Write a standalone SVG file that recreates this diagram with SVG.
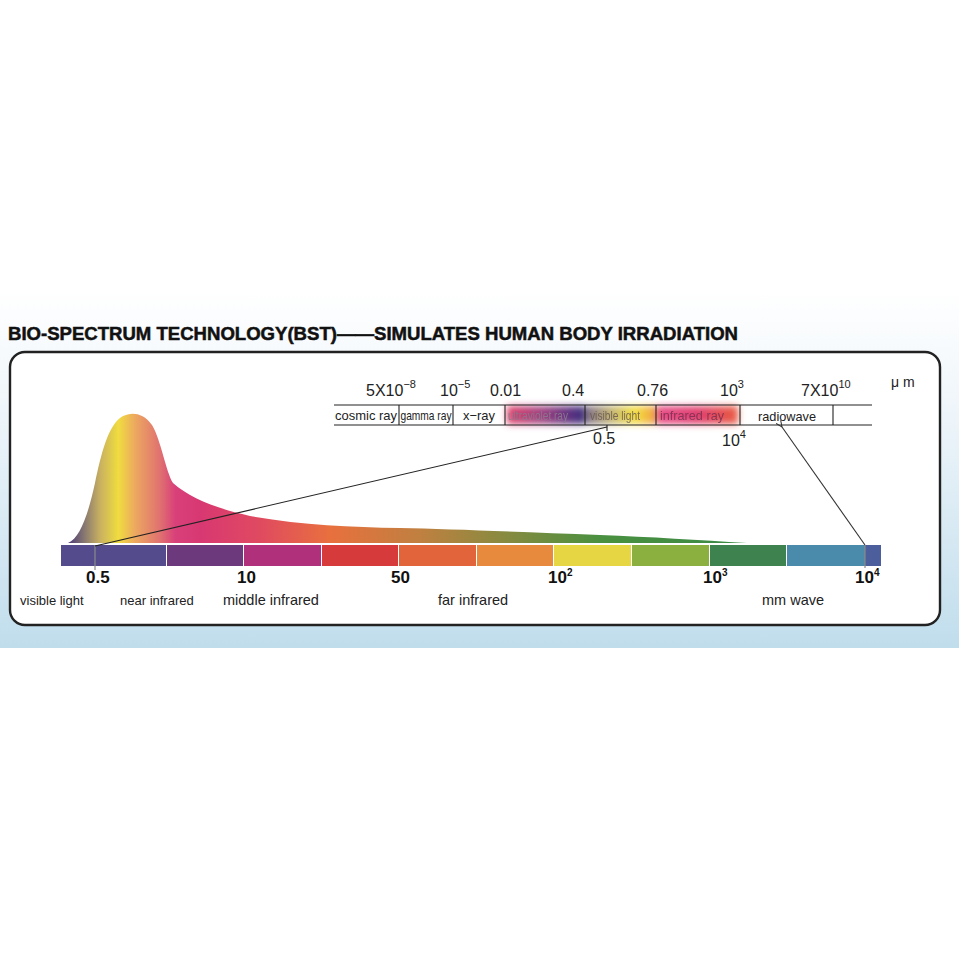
<svg xmlns="http://www.w3.org/2000/svg" width="959" height="959" viewBox="0 0 959 959">
<defs>
<linearGradient id="bg" x1="0" y1="290" x2="0" y2="648" gradientUnits="userSpaceOnUse">
<stop offset="0" stop-color="#ffffff"/>
<stop offset="0.35" stop-color="#eef5fa"/>
<stop offset="1" stop-color="#c0ddec"/>
</linearGradient>
<linearGradient id="curve" x1="68" y1="0" x2="747" y2="0" gradientUnits="userSpaceOnUse">
<stop offset="0" stop-color="#4a3a78"/>
<stop offset="0.025" stop-color="#8a7a70"/>
<stop offset="0.047" stop-color="#c8b060"/>
<stop offset="0.074" stop-color="#f0dc40"/>
<stop offset="0.099" stop-color="#eca860"/>
<stop offset="0.136" stop-color="#e07070"/>
<stop offset="0.158" stop-color="#d8407a"/>
<stop offset="0.195" stop-color="#d83872"/>
<stop offset="0.283" stop-color="#e04a60"/>
<stop offset="0.386" stop-color="#e8703e"/>
<stop offset="0.518" stop-color="#c08040"/>
<stop offset="0.636" stop-color="#8a8a40"/>
<stop offset="0.783" stop-color="#4a9040"/>
<stop offset="1" stop-color="#3a8a45"/>
</linearGradient>
<linearGradient id="uv" x1="0" y1="0" x2="1" y2="0">
<stop offset="0" stop-color="#e0406a"/>
<stop offset="0.45" stop-color="#a04080"/>
<stop offset="1" stop-color="#3a2c80"/>
</linearGradient>
<linearGradient id="vis" x1="0" y1="0" x2="1" y2="0">
<stop offset="0" stop-color="#7a6c88"/>
<stop offset="0.4" stop-color="#c8b870"/>
<stop offset="0.7" stop-color="#f4e040"/>
<stop offset="1" stop-color="#f0a040"/>
</linearGradient>
<linearGradient id="ir" x1="0" y1="0" x2="1" y2="0">
<stop offset="0" stop-color="#e8508a"/>
<stop offset="0.5" stop-color="#e04070"/>
<stop offset="1" stop-color="#e85a40"/>
</linearGradient>
<filter id="blur" x="-0.2" y="-0.6" width="1.4" height="2.2">
<feGaussianBlur stdDeviation="3.5"/>
</filter>
<marker id="arr" viewBox="0 0 10 10" refX="1" refY="5" markerWidth="7" markerHeight="7" orient="auto-start-reverse" markerUnits="userSpaceOnUse">
<path d="M10,1 L1,5 L10,9" fill="none" stroke="#333" stroke-width="1.5"/>
</marker>
<style>
.t{font-family:"Liberation Sans",Arial,sans-serif;fill:#222}
.top{font-size:16px}
.cell{font-size:13px}
.bold{font-size:17px;font-weight:bold;fill:#111}
.sub{font-size:14.5px}
.line{stroke:#222;stroke-width:1.1;fill:none}
.tick{stroke:#8a8a8a;stroke-width:1.2}
</style>
</defs>
<rect x="0" y="0" width="959" height="959" fill="#ffffff"/>
<rect x="0" y="290" width="959" height="358" fill="url(#bg)"/>
<text x="8" y="340" class="t" style="font-size:18px;font-weight:bold;fill:#111" stroke="#111" stroke-width="0.5" textLength="730" lengthAdjust="spacingAndGlyphs">BIO-SPECTRUM TECHNOLOGY(BST)——SIMULATES HUMAN BODY IRRADIATION</text>
<g id="frame">
<rect x="10" y="352" width="930" height="273" rx="15" ry="15" fill="#ffffff" stroke="#222" stroke-width="2.4"/>
</g>
<g id="curve-shape">
<path d="M68,543 C80,538 88,515 95,483 C101,455 108,424 123,416 C131,412 143,412 152,425 C161,440 166,472 173,483 C190,498 215,508 250,516 C300,525 350,527 400,528 C450,529 520,532 600,535 C650,537 700,540 747,543 Z" fill="url(#curve)"/>
</g>
<g id="top-scale">
<g id="glows" filter="url(#blur)">
<rect x="507" y="406" width="78" height="18" fill="url(#uv)"/>
<rect x="585" y="406" width="71" height="18" fill="url(#vis)"/>
<rect x="656" y="406" width="82" height="18" fill="url(#ir)"/>
</g>
<line x1="334" y1="405" x2="872" y2="405" class="line"/>
<line x1="334" y1="425" x2="872" y2="425" class="line"/>
<g class="line">
<line x1="399" y1="405" x2="399" y2="425"/>
<line x1="453" y1="405" x2="453" y2="425"/>
<line x1="505" y1="405" x2="505" y2="425"/>
<line x1="585" y1="405" x2="585" y2="425"/>
<line x1="656" y1="405" x2="656" y2="425"/>
<line x1="740" y1="405" x2="740" y2="425"/>
<line x1="833" y1="405" x2="833" y2="425"/>
<line x1="607" y1="425" x2="607" y2="431"/>
</g>
<text x="335" y="420" class="t cell" textLength="62" lengthAdjust="spacingAndGlyphs">cosmic ray</text>
<text x="400.5" y="420" class="t cell" textLength="51" lengthAdjust="spacingAndGlyphs">gamma ray</text>
<text x="463" y="420" class="t cell" textLength="32" lengthAdjust="spacingAndGlyphs">x−ray</text>
<text x="508" y="420" class="t cell" style="fill:#8a7a90;opacity:0.9" textLength="60" lengthAdjust="spacingAndGlyphs">ultraviolet ray</text>
<text x="590" y="420" class="t cell" style="fill:#6a5a50;opacity:0.85" textLength="50" lengthAdjust="spacingAndGlyphs">visible light</text>
<text x="660" y="420" class="t cell" style="fill:#7a3050;opacity:0.85" textLength="64" lengthAdjust="spacingAndGlyphs">infrared ray</text>
<text x="758" y="421" class="t cell" textLength="58" lengthAdjust="spacingAndGlyphs">radiowave</text>
<text x="366" y="396" class="t top">5X10<tspan dy="-8" font-size="11">−8</tspan></text>
<text x="440" y="396" class="t top">10<tspan dy="-8" font-size="11">−5</tspan></text>
<text x="490" y="396" class="t top">0.01</text>
<text x="562" y="396" class="t top">0.4</text>
<text x="637" y="396" class="t top">0.76</text>
<text x="720" y="396" class="t top">10<tspan dy="-8" font-size="11">3</tspan></text>
<text x="801" y="396" class="t top">7X10<tspan dy="-8" font-size="11">10</tspan></text>
<text x="891" y="387" class="t" style="font-size:14px">μ m</text>
<text x="593" y="444" class="t top">0.5</text>
<text x="722" y="446" class="t top">10<tspan dy="-8" font-size="11">4</tspan></text>
</g>
<g id="bottom-bar">
<rect x="61" y="545" width="105" height="21" fill="#534b8c"/>
<rect x="167" y="545" width="76" height="21" fill="#6c3a7c"/>
<rect x="244" y="545" width="77" height="21" fill="#b0307c"/>
<rect x="322" y="545" width="76" height="21" fill="#d63a3a"/>
<rect x="399" y="545" width="77" height="21" fill="#e2643a"/>
<rect x="477" y="545" width="76" height="21" fill="#e88a3e"/>
<rect x="554" y="545" width="77" height="21" fill="#e6d644"/>
<rect x="632" y="545" width="77" height="21" fill="#8bb040"/>
<rect x="710" y="545" width="76" height="21" fill="#3e8250"/>
<rect x="787" y="545" width="78" height="21" fill="#4a8aaa"/>
<rect x="865" y="545" width="16" height="21" fill="#4c5e9c"/>
<line x1="95" y1="545" x2="95" y2="570" class="tick"/>
<line x1="865" y1="545" x2="865" y2="568" class="tick"/>
</g>
<g id="bottom-labels">
<text x="86" y="583" class="t bold">0.5</text>
<text x="237" y="583" class="t bold">10</text>
<text x="391" y="583" class="t bold">50</text>
<text x="548" y="583" class="t bold">10<tspan dy="-7" font-size="10">2</tspan></text>
<text x="703" y="583" class="t bold">10<tspan dy="-7" font-size="10">3</tspan></text>
<text x="855" y="583" class="t bold">10<tspan dy="-7" font-size="10">4</tspan></text>
<text x="20" y="605" class="t" style="font-size:13px">visible light</text>
<text x="120" y="605" class="t" style="font-size:13px">near infrared</text>
<text x="223" y="605" class="t sub">middle infrared</text>
<text x="438" y="605" class="t sub">far infrared</text>
<text x="762" y="605" class="t sub">mm wave</text>
</g>
<g id="connectors">
<line x1="607" y1="427" x2="95" y2="546" class="line"/>
<line x1="782" y1="427" x2="865" y2="545" stroke="#333" stroke-width="1.1" marker-start="url(#arr)"/>
</g>
</svg>
